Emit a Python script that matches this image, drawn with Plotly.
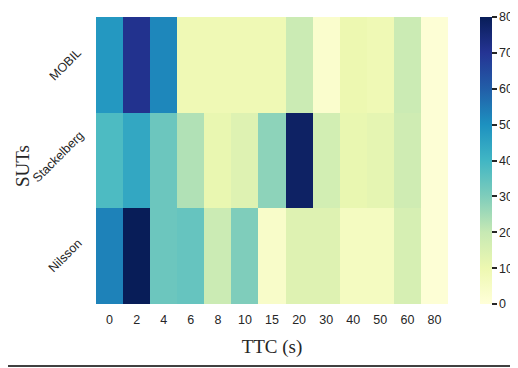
import plotly.graph_objects as go

ttc = ["0", "2", "4", "6", "8", "10", "15", "20", "30", "40", "50", "60", "80"]
suts = ["Nilsson", "Stackelberg", "MOBIL"]
mobil = [48, 71, 52, 9, 9, 9, 9, 19, 3, 10, 9, 19, 1]
stackelberg = [38, 44, 33, 23, 11, 14, 28, 78, 17, 11, 12, 18, 1]
nilsson = [53, 80, 33, 34, 19, 30, 4, 14, 14, 6, 6, 16, 1]

ylgnbu = [
    [0.0, "#ffffd9"], [0.125, "#edf8b1"], [0.25, "#c7e9b4"], [0.375, "#7fcdbb"],
    [0.5, "#41b6c4"], [0.625, "#1d91c0"], [0.75, "#225ea8"], [0.875, "#253494"],
    [1.0, "#081d58"],
]

# page body has an 8px margin; figure sized so the plot lands where the reference has it
OFF = 8
W, H = 518 - OFF, 368 - OFF
L, R, T, B = 96 - OFF, 70, 17 - OFF, H - (304 - OFF)
PW, PH = W - L - R, H - T - B

txt = "#262626"
sans = "Liberation Sans, Arial"
serif = "Liberation Serif, Times New Roman"

fig = go.Figure(go.Heatmap(
    z=[nilsson, stackelberg, mobil],
    x=ttc, y=suts,
    colorscale=ylgnbu, zmin=0, zmax=80,
    colorbar=dict(
        x=(480 - 96) / PW, xanchor="left", xpad=0, y=0.5, yanchor="middle", len=1.0, ypad=0,
        thickness=12, outlinewidth=0,
        tickvals=[0, 10, 20, 30, 40, 50, 60, 70, 80],
        ticks="outside", ticklen=5, tickwidth=1.5, tickcolor=txt,
        tickfont=dict(family=sans, size=12.5, color=txt),
    ),
))

# rotated y tick labels, right ends aligned ~15px left of the heatmap
label_center_px = {"MOBIL": 65, "Stackelberg": 58, "Nilsson": 65}
label_shift_px = {"MOBIL": 0, "Stackelberg": 4, "Nilsson": 0}
annotations = [
    dict(text=s, x=(label_center_px[s] - 96) / PW, y=s, xref="paper", yref="y", textangle=-45,
         xanchor="center", yanchor="middle", yshift=label_shift_px[s], showarrow=False,
         font=dict(family=sans, size=12.5, color=txt))
    for s in suts
]
annotations.append(dict(text="SUTs", x=(22 - 96) / PW, y=(304 - 166) / PH, xref="paper", yref="paper",
                        textangle=-90, xanchor="center", yanchor="middle", showarrow=False,
                        font=dict(family=serif, size=19, color=txt)))

fig.update_layout(
    width=W, height=H,
    margin=dict(l=L, r=R, t=T, b=B, autoexpand=False),
    paper_bgcolor="white", plot_bgcolor="white",
    xaxis=dict(
        type="category", showgrid=False, zeroline=False, ticks="", automargin=False,
        ticklabelstandoff=6,
        tickfont=dict(family=sans, size=12.5, color=txt),
        title=dict(text="TTC (s)", font=dict(family=serif, size=19, color=txt), standoff=14),
    ),
    yaxis=dict(
        type="category", showgrid=False, zeroline=False, ticks="", automargin=False,
        showticklabels=False,
    ),
    annotations=annotations,
    shapes=[dict(type="line", xref="paper", yref="paper",
                 x0=-L / PW, x1=(513 - 96) / PW, y0=-(366 - 304) / PH, y1=-(366 - 304) / PH,
                 line=dict(color="black", width=1.5))],
)

fig.write_html("out.html")
